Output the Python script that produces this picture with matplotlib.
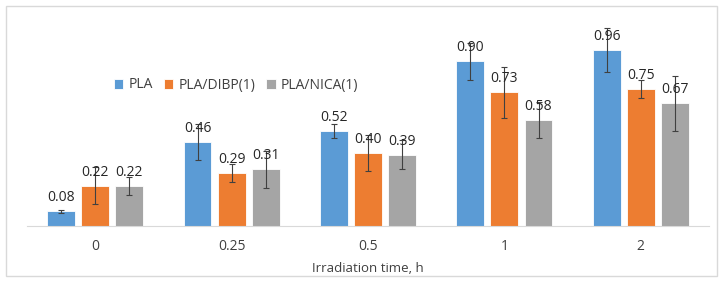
import matplotlib.pyplot as plt
import numpy as np
from matplotlib.patches import Rectangle

categories = ["0", "0.25", "0.5", "1", "2"]
series_names = ["PLA", "PLA/DIBP(1)", "PLA/NICA(1)"]
pla = [0.08, 0.46, 0.52, 0.90, 0.96]
pla_dibp = [0.22, 0.29, 0.40, 0.73, 0.75]
pla_nica = [0.22, 0.31, 0.39, 0.58, 0.67]
pla_err = [0.01, 0.10, 0.04, 0.10, 0.12]
pla_dibp_err = [0.10, 0.05, 0.10, 0.14, 0.05]
pla_nica_err = [0.05, 0.10, 0.08, 0.10, 0.15]

colors = ["#5B9BD5", "#ED7D31", "#A5A5A5"]
plt.rcParams['font.family'] = ['Open Sans', 'DejaVu Sans']

fig = plt.figure(figsize=(7.24, 2.83), dpi=100)
fig.patches.append(Rectangle((6 / 724, 7 / 283), 711 / 724, 270 / 283, transform=fig.transFigure,
                             fill=False, edgecolor="#D9D9D9", linewidth=1))

ax = fig.add_axes([27 / 724, 57 / 283, 682 / 724, (1.1 * 183) / 283])

x = np.arange(len(categories))
width = 0.205
step = 0.25
data = [pla, pla_dibp, pla_nica]
errs = [pla_err, pla_dibp_err, pla_nica_err]
for i, (vals, err, c, name) in enumerate(zip(data, errs, colors, series_names)):
    pos = x + (i - 1) * step
    ax.bar(pos, vals, width, color=c, edgecolor="white", linewidth=0.6, label=name, zorder=2)
    ax.errorbar(pos, vals, yerr=err, fmt="none", ecolor="#404040", elinewidth=0.8,
                capsize=2.5, capthick=0.8, zorder=3, clip_on=False)
    for p, v in zip(pos, vals):
        ax.text(p, v + 0.033, "{:.2f}".format(v), ha="center", va="bottom",
                fontsize=10, color="#262626", zorder=4)

ax.set_xlim(-0.5, 4.5)
ax.set_ylim(0, 1.1)
ax.set_yticks([])
ax.set_xticks(x)
ax.set_xticklabels(categories, fontsize=10, color="#404040")
ax.tick_params(axis="x", length=0, pad=9)
for s in ["top", "right", "left"]:
    ax.spines[s].set_visible(False)
ax.spines["bottom"].set_color("#D9D9D9")
ax.patch.set_alpha(0)
ax.set_xlabel("Irradiation time, h", fontsize=9.5, color="#404040", labelpad=6)

ax.legend(loc="center", bbox_to_anchor=(236 / 724, 1 - 85 / 283), bbox_transform=fig.transFigure,
          ncol=3, frameon=False, fontsize=10, handlelength=0.7, handleheight=0.7,
          handletextpad=0.35, columnspacing=0.8, labelcolor="#404040")

fig.savefig("out.png", dpi=100)
